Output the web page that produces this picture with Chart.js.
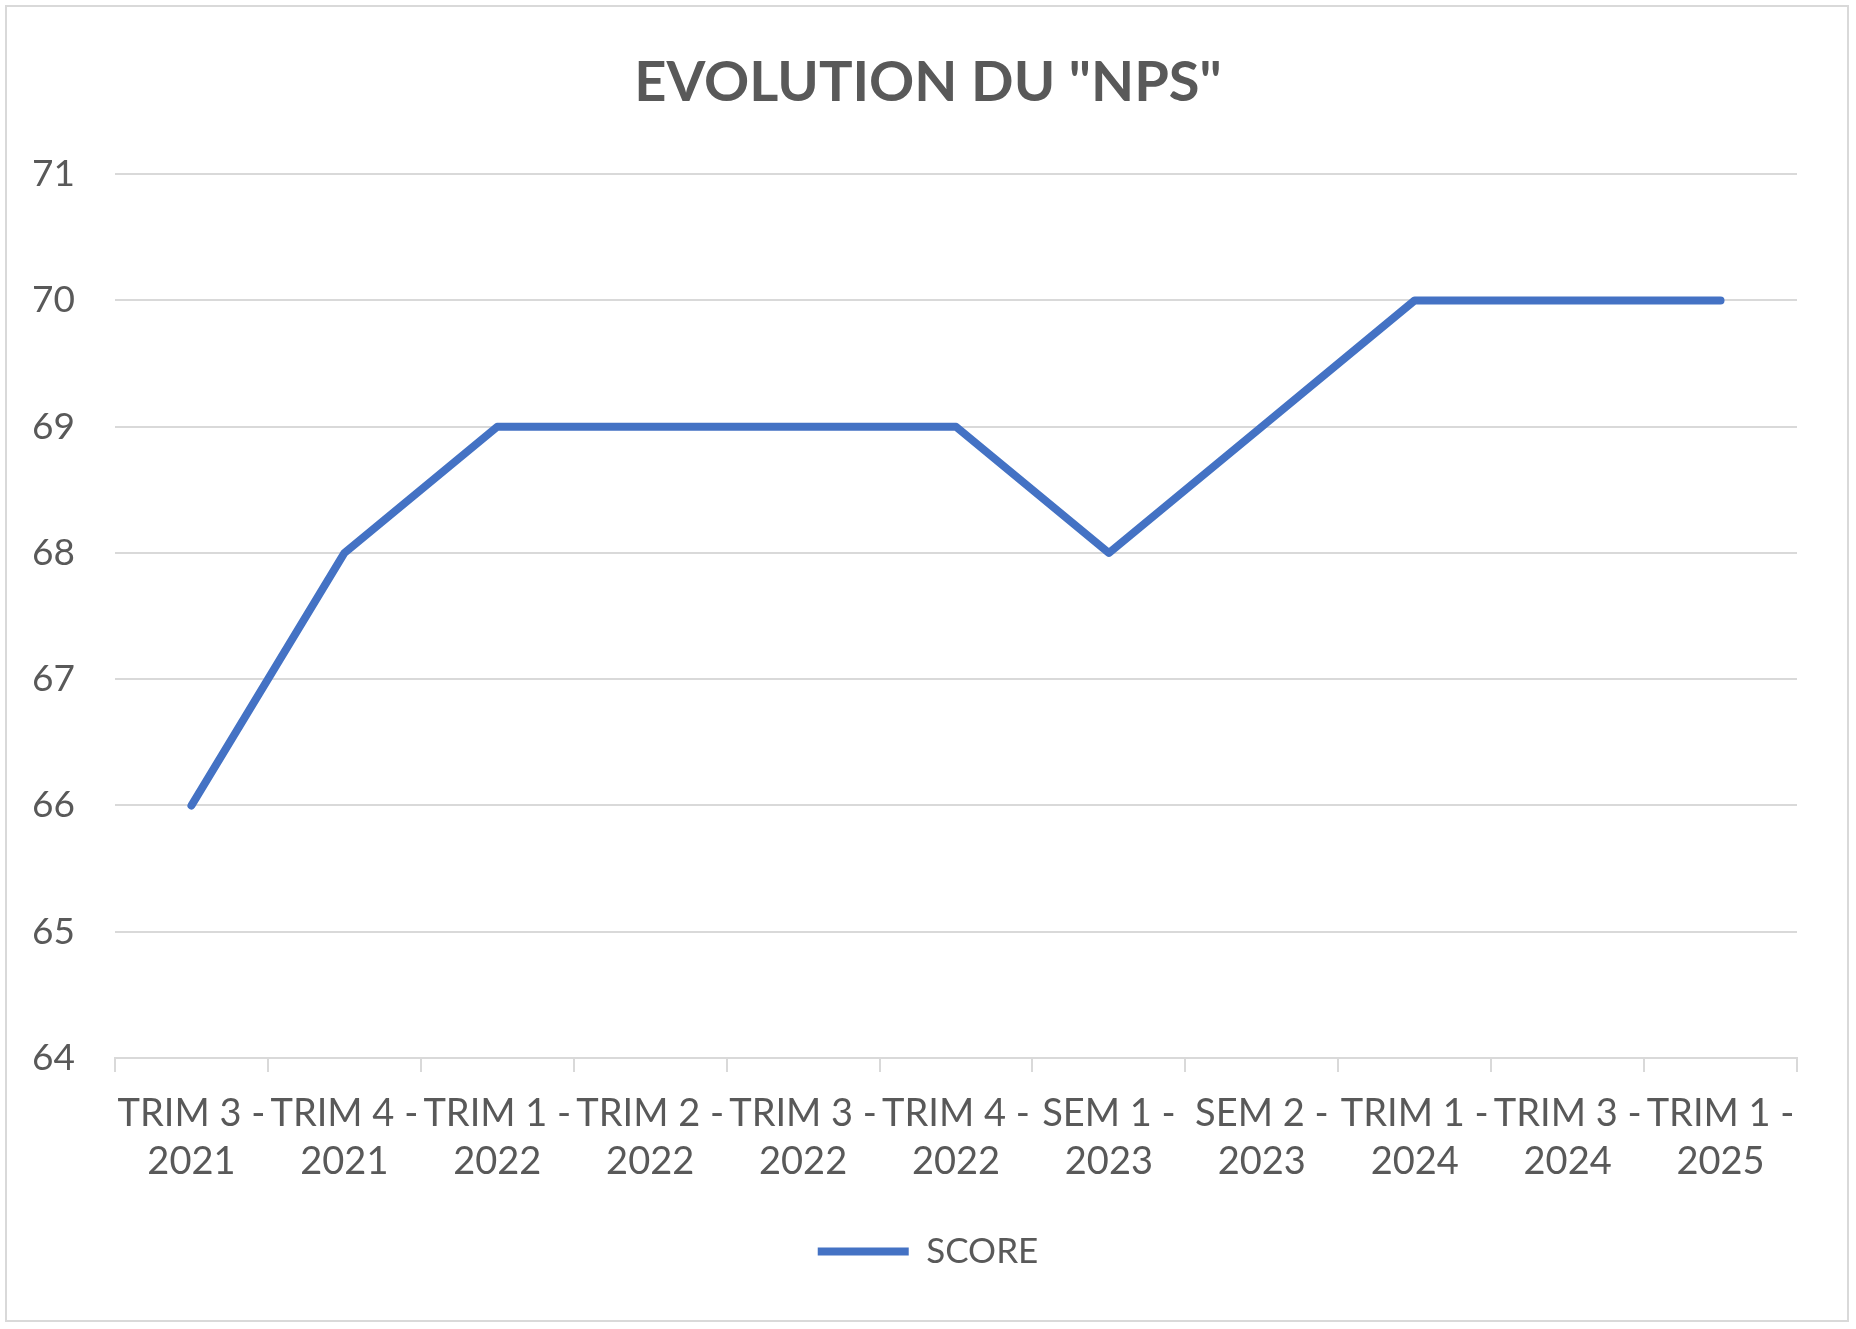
<!DOCTYPE html>
<html>
<head>
<meta charset="utf-8">
<script src="https://cdn.jsdelivr.net/npm/chart.js@4.4.1/dist/chart.umd.min.js"></script>
<style>
  html, body { margin: 0; padding: 0; background: #ffffff; }
  #wrap { position: absolute; left: 0; top: 0; width: 1856px; height: 1329px; }
  #frame { position: absolute; left: 5px; top: 5px; width: 1840px; height: 1313px; border: 2px solid #d9d9d9; pointer-events: none; }
</style>
</head>
<body>
<div id="wrap">
  <canvas id="npsChart"></canvas>
  <div id="frame"></div>
</div>
<script>
// data
const categories = [
    "TRIM 3 - 2021", "TRIM 4 - 2021", "TRIM 1 - 2022", "TRIM 2 - 2022",
    "TRIM 3 - 2022", "TRIM 4 - 2022", "SEM 1 - 2023", "SEM 2 - 2023",
    "TRIM 1 - 2024", "TRIM 3 - 2024", "TRIM 1 - 2025"
];
const scoreValues = [66, 68, 69, 69, 69, 69, 68, 69, 70, 70, 70];
const yTicks = [64, 65, 66, 67, 68, 69, 70, 71];

const textColor = "#595959";
const gridColor = "#d9d9d9";
const fontFamily = "Lato, 'Open Sans', sans-serif";

document.addEventListener("DOMContentLoaded", function () {

    const canvas = document.getElementById("npsChart");

    new Chart(canvas, {

        type: "line",

        data: {
            labels: categories,
            datasets: [{
                label: "SCORE",
                data: scoreValues,
                borderColor: "#4472c4",
                backgroundColor: "#4472c4",
                borderWidth: 8,
                borderCapStyle: "round",
                borderJoinStyle: "round",
                pointRadius: 0,
                tension: 0,
                fill: false
            }]
        },

        options: {
            responsive: true,
            maintainAspectRatio: false,
            animation: false,
            layout: {
                padding: { left: 0, right: 0, top: 0, bottom: 50 }
            },
            plugins: {
                title: {
                    display: true,
                    text: 'EVOLUTION DU "NPS"',
                    color: textColor,
                    font: { family: fontFamily, size: 56, weight: "bold" },
                    padding: { top: 49, bottom: 58 }
                },
                legend: {
                    position: "bottom",
                    labels: {
                        usePointStyle: true,
                        pointStyle: "line",
                        pointStyleWidth: 91,
                        boxHeight: 8,
                        color: textColor,
                        padding: 10,
                        font: { family: fontFamily, size: 35 }
                    }
                },
                tooltip: { enabled: false }
            },
            scales: {
                x: {
                    offset: true,
                    grid: {
                        offset: true,
                        drawOnChartArea: false,
                        drawTicks: true,
                        tickLength: 14,
                        color: gridColor,
                        lineWidth: 2
                    },
                    border: { display: true, color: gridColor, width: 2 },
                    ticks: {
                        color: textColor,
                        padding: 17,
                        maxRotation: 0,
                        autoSkip: false,
                        font: { family: fontFamily, size: 38, lineHeight: 1.28 },
                        callback: function (value) {
                            const parts = categories[value].split(" - ");
                            return [parts[0] + " -", parts[1]];
                        }
                    },
                    afterFit: function (scale) {
                        scale.height = 166;
                    }
                },
                y: {
                    min: yTicks[0],
                    max: yTicks[yTicks.length - 1],
                    grid: {
                        color: gridColor,
                        lineWidth: 2,
                        drawTicks: false
                    },
                    border: { display: false },
                    ticks: {
                        stepSize: 1,
                        color: textColor,
                        padding: 40,
                        font: { family: fontFamily, size: 37 }
                    },
                    afterBuildTicks: function (scale) {
                        scale.ticks = yTicks.map(v => ({ value: v }));
                    },
                    afterFit: function (scale) {
                        scale.width = 115;
                    }
                },
                // empty right-hand axis, only keeps the right margin so title and legend stay centred on the page
                yRight: {
                    position: "right",
                    min: yTicks[0],
                    max: yTicks[yTicks.length - 1],
                    grid: { display: false },
                    border: { display: false },
                    ticks: { display: false },
                    afterFit: function (scale) {
                        scale.width = 59;
                    }
                }
            }
        }
    });

});
</script>
</body>
</html>
